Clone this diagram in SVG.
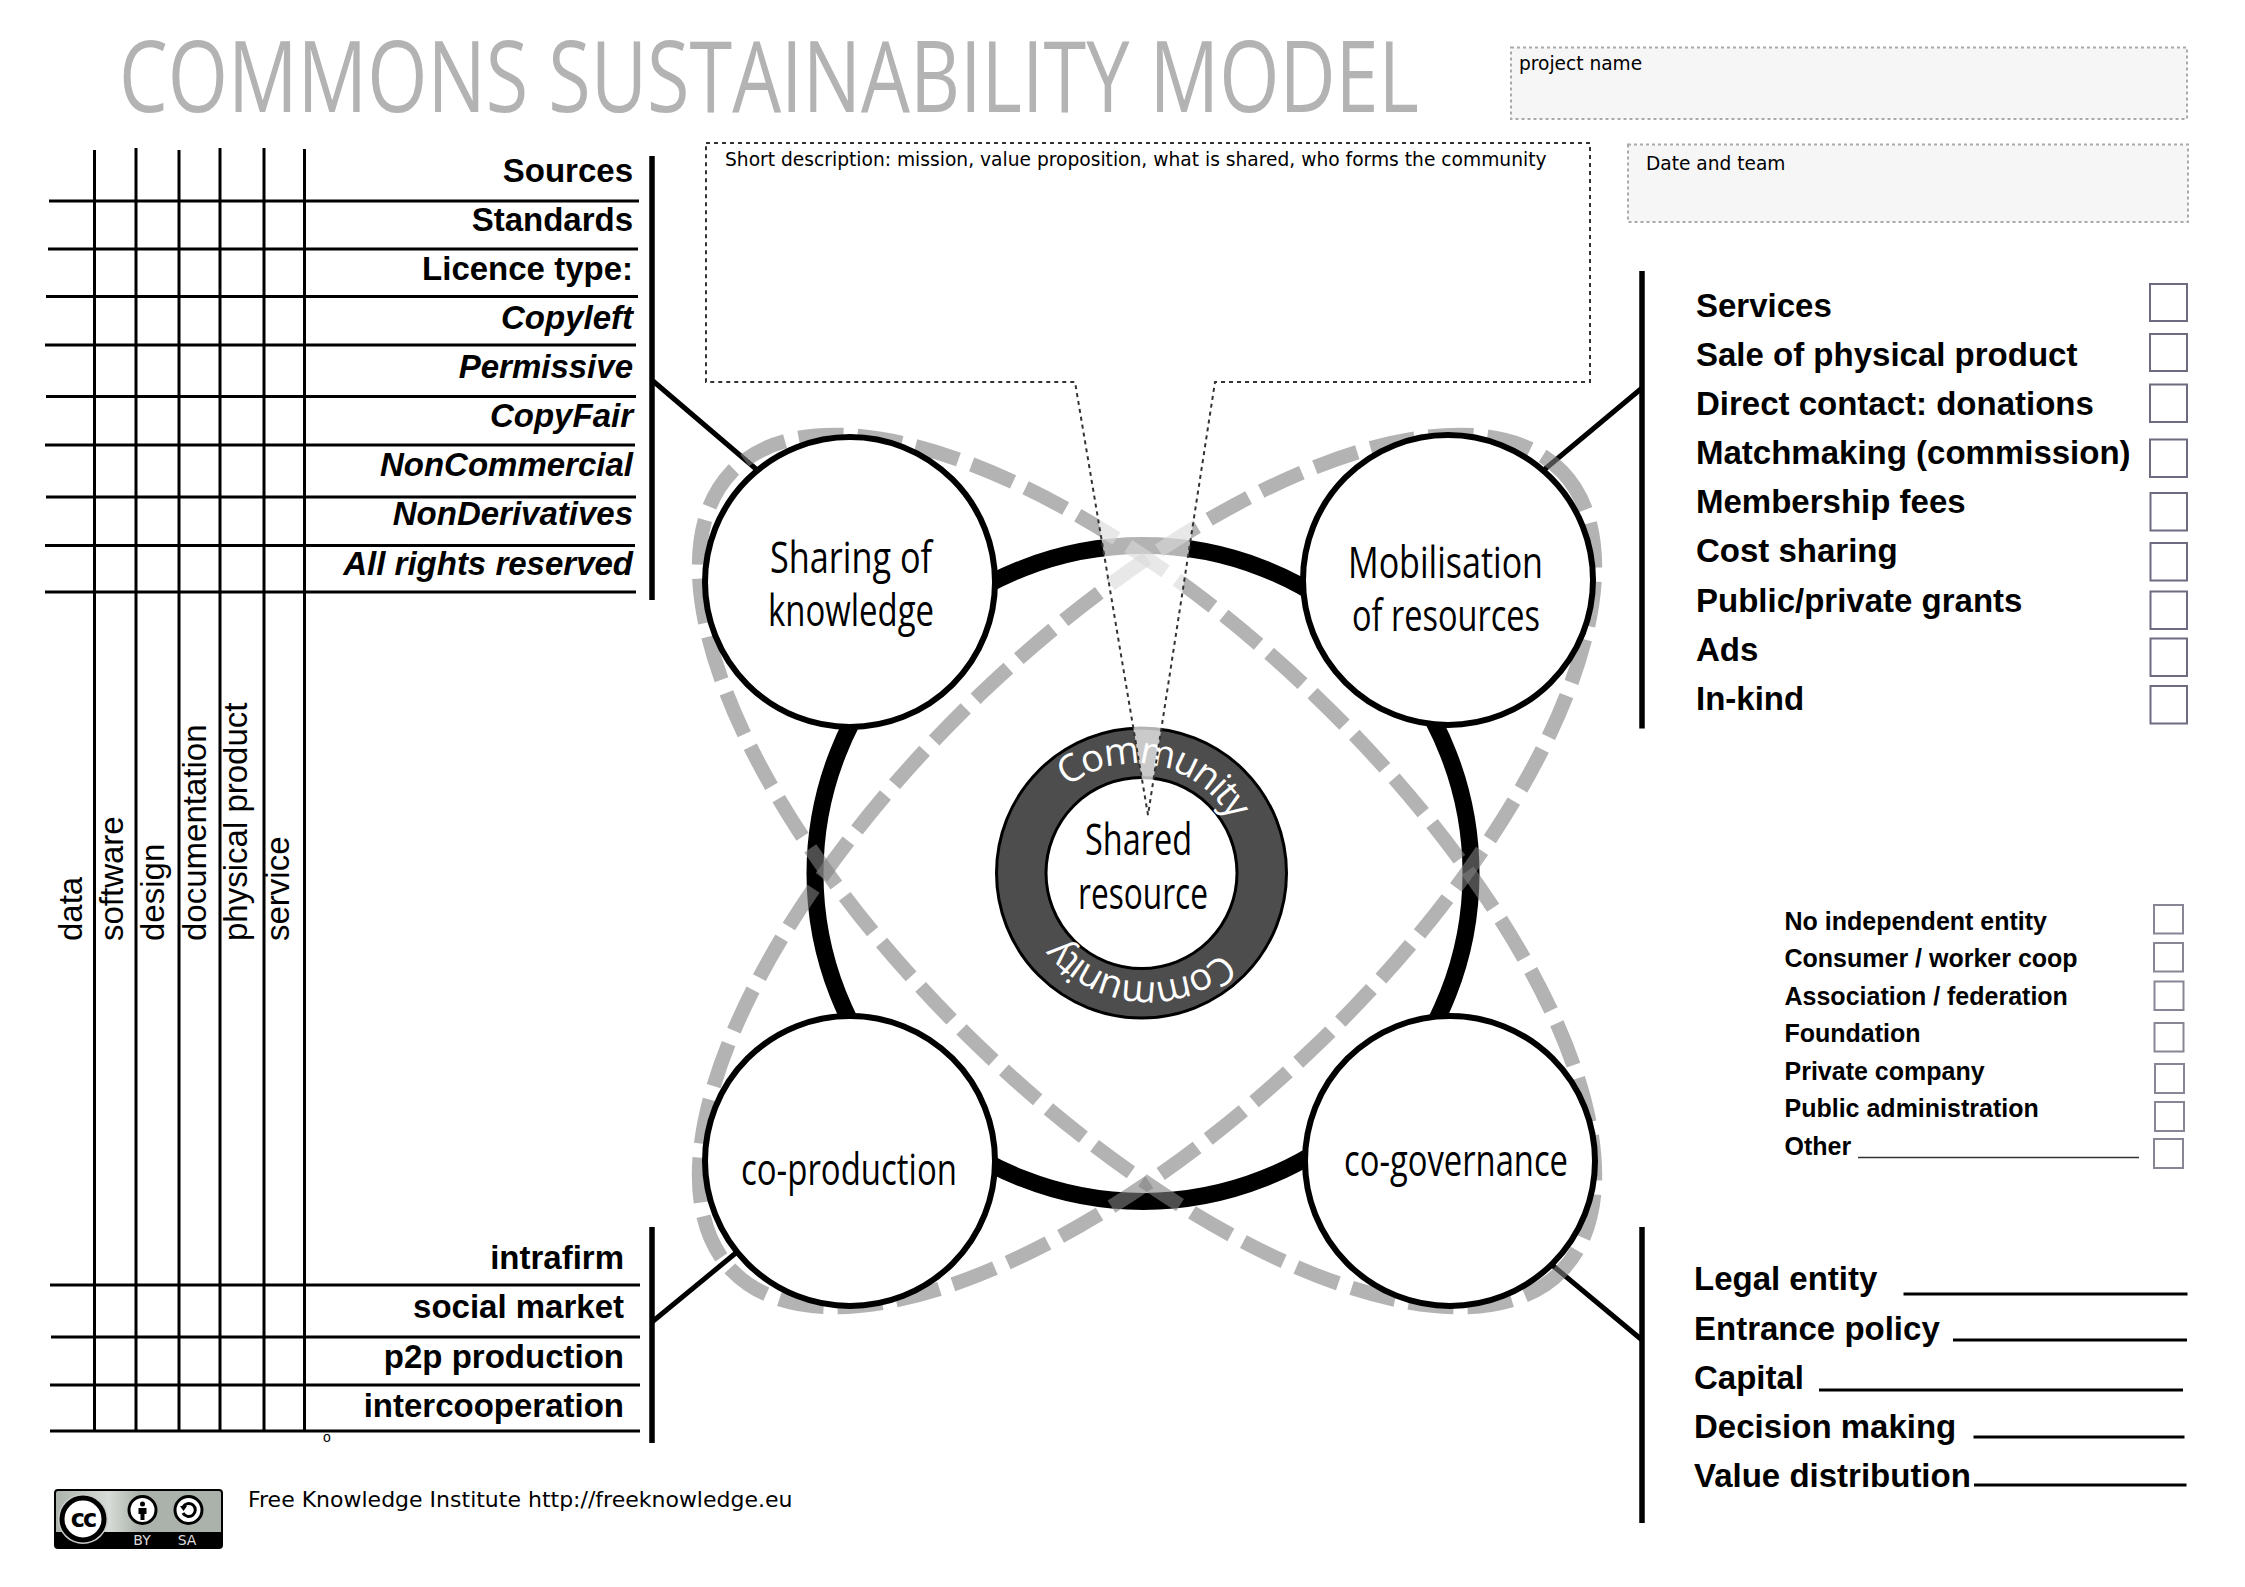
<svg xmlns="http://www.w3.org/2000/svg" width="2245" height="1587" viewBox="0 0 2245 1587">
<style>
text{font-family:"Liberation Sans",Arial,sans-serif;fill:#000}
.b{font-weight:700;font-size:33px}
.e{text-anchor:end}
.i{font-style:italic}
.v{font-size:33px}
.m{font-weight:700;font-size:25px}
.d{font-family:"DejaVu Sans",sans-serif;font-size:18.6px}
.u{font-family:"Open Sans",sans-serif;font-size:44px;font-weight:500}
.ln{stroke:#000;stroke-width:3;fill:none}
.th{stroke:#000;stroke-width:5.500;fill:none}
.con{stroke:#000;stroke-width:5;fill:none}
.box{fill:#fff;stroke:#6f6a80;stroke-width:2}
.sbox{fill:#fff;stroke:#8a8595;stroke-width:2}
.info{fill:#f6f6f6;stroke:#aaa;stroke-width:2;stroke-dasharray:3 3}
.pet{fill:none;stroke:#808080;stroke-opacity:.6;stroke-width:14.500;stroke-dasharray:45 14}
.n{fill:#fff;stroke:#000;stroke-width:6}
</style>
<defs>
<path id="arcT" d="M1063,791 A109,109 0 1 1 1063,955"/>
<linearGradient id="ccg" x1="0" x2="1" y1="0" y2="0">
<stop offset="0" stop-color="#aab2ab"/><stop offset=".32" stop-color="#d8dcd8"/><stop offset=".5" stop-color="#aab2ab"/><stop offset="1" stop-color="#aab2ab"/>
</linearGradient>
</defs>
<rect width="2245" height="1587" fill="#fff"/>

<text x="119" y="112" textLength="1300" lengthAdjust="spacingAndGlyphs" style="font-family:'Open Sans',sans-serif;font-size:98px;font-weight:500;fill:#b3b3b3">COMMONS SUSTAINABILITY MODEL</text>

<g id="project-name"><rect class="info" x="1511" y="47.500" width="676" height="71.500"/><text class="d" x="1519" y="70">project name</text></g>
<g id="date-team"><rect class="info" x="1628" y="144.500" width="560" height="77.500"/><text class="d" x="1646" y="169.500">Date and team</text></g>

<g id="connectors">
<path class="con" d="M653,381 L756,469"/>
<path class="con" d="M1642,388 L1545,469"/>
<path class="con" d="M652,1322 L737,1252"/>
<path class="con" d="M1642,1340 L1552,1265"/>
<circle cx="1143" cy="873.500" r="328" fill="none" stroke="#000" stroke-width="17"/>
<ellipse class="pet" cx="1147" cy="871" rx="576" ry="243" transform="rotate(43.900 1147 871)"/>
<ellipse class="pet" cx="1147" cy="871" rx="576" ry="243" transform="rotate(-43.900 1147 871)"/>
</g>

<g id="sharing-of-knowledge"><circle class="n" cx="850" cy="582" r="145"/>
<text class="u" x="770" y="573" textLength="162" lengthAdjust="spacingAndGlyphs">Sharing of</text>
<text class="u" x="768" y="626" textLength="166" lengthAdjust="spacingAndGlyphs">knowledge</text></g>
<g id="mobilisation-of-resources"><circle class="n" cx="1448" cy="580" r="145"/>
<text class="u" x="1348" y="578" textLength="195" lengthAdjust="spacingAndGlyphs">Mobilisation</text>
<text class="u" x="1352" y="631" textLength="188" lengthAdjust="spacingAndGlyphs">of resources</text></g>
<g id="co-production"><circle class="n" cx="850" cy="1161" r="145"/>
<text class="u" x="741" y="1185" textLength="216" lengthAdjust="spacingAndGlyphs">co-production</text></g>
<g id="co-governance"><circle class="n" cx="1450" cy="1161" r="145"/>
<text class="u" x="1344" y="1176" textLength="224" lengthAdjust="spacingAndGlyphs">co-governance</text></g>

<g id="shared-resource">
<circle cx="1141.500" cy="873" r="145" fill="#4d4d4d" stroke="#000" stroke-width="3"/>
<circle cx="1141.500" cy="873" r="95.500" fill="#fff" stroke="#000" stroke-width="3"/>
<text class="u" x="1085" y="855" textLength="107" lengthAdjust="spacingAndGlyphs">Shared</text>
<text class="u" x="1078" y="909" textLength="130" lengthAdjust="spacingAndGlyphs">resource</text>
<g transform="rotate(3 1141.500 873)"><text style="font-family:'Open Sans',sans-serif;font-size:38px;font-weight:500;fill:#fff"><textPath href="#arcT" textLength="190" lengthAdjust="spacing">Community</textPath></text></g>
<g transform="rotate(178 1141.500 873)"><text style="font-family:'Open Sans',sans-serif;font-size:38px;font-weight:500;fill:#fff"><textPath href="#arcT" textLength="183" lengthAdjust="spacing">Community</textPath></text></g>
</g>

<g id="description">
<path d="M706,143 H1590 V382 H1215 L1148,815 L1075,382 H706 Z" fill="#fff" fill-opacity=".7" stroke="#333" stroke-width="2" stroke-dasharray="4 4"/>
<text class="d" x="725" y="166" style="font-size:18.66px">Short description: mission, value proposition, what is shared, who forms the community</text>
</g>

<g id="licence-table">
<path class="ln" d="M49,201H639M48,249H638M46,296.500H638M45,345H636M46,396.500H636M45,445H635M46,497H636M45,545.500H635M45,592H636"/>
<path class="ln" d="M50,1285H640M51,1337H640M50,1385H640M50,1431H640"/>
<path class="ln" d="M94.500,150V1431M136,148V1431M179,150V1431M220,148V1431M264,148V1431M304.500,149V1431"/>
<path class="th" d="M652,156V600"/>
<path class="th" d="M652,1227V1443"/>
<text class="b e" x="633" y="182">Sources</text>
<text class="b e" x="633" y="231">Standards</text>
<text class="b e" x="633" y="280">Licence type:</text>
<text class="b e i" x="633" y="329">Copyleft</text>
<text class="b e i" x="633" y="378">Permissive</text>
<text class="b e i" x="633" y="427">CopyFair</text>
<text class="b e i" x="633" y="476">NonCommercial</text>
<text class="b e i" x="633" y="525">NonDerivatives</text>
<text class="b e i" x="633" y="574.500">All rights reserved</text>
<text class="b e" x="624" y="1269">intrafirm</text>
<text class="b e" x="624" y="1318">social market</text>
<text class="b e" x="624" y="1368">p2p production</text>
<text class="b e" x="624" y="1417">intercooperation</text>
<text class="v" transform="translate(82,941) rotate(-90)">data</text>
<text class="v" transform="translate(123,941) rotate(-90)">software</text>
<text class="v" transform="translate(164,941) rotate(-90)">design</text>
<text class="v" transform="translate(206,941) rotate(-90)">documentation</text>
<text class="v" transform="translate(247,941) rotate(-90)">physical product</text>
<text class="v" transform="translate(289,941) rotate(-90)">service</text>
<text x="323" y="1442" style="font-size:14px">o</text>
</g>

<g id="revenue">
<path class="th" d="M1642,271V728.500"/>
<text class="b" x="1696" y="316.500">Services</text>
<text class="b" x="1696" y="365.500">Sale of physical product</text>
<text class="b" x="1696" y="415">Direct contact: donations</text>
<text class="b" x="1696" y="464">Matchmaking (commission)</text>
<text class="b" x="1696" y="513">Membership fees</text>
<text class="b" x="1696" y="562">Cost sharing</text>
<text class="b" x="1696" y="612">Public/private grants</text>
<text class="b" x="1696" y="661">Ads</text>
<text class="b" x="1696" y="710">In-kind</text>
<rect class="box" x="2150" y="284" width="37" height="37"/>
<rect class="box" x="2150" y="334" width="37" height="37"/>
<rect class="box" x="2150" y="384.500" width="37" height="37.500"/>
<rect class="box" x="2150" y="439.500" width="37" height="37.500"/>
<rect class="box" x="2150.500" y="493" width="36.500" height="37.500"/>
<rect class="box" x="2150.500" y="543" width="36.500" height="37.500"/>
<rect class="box" x="2150.500" y="591.500" width="36.500" height="37.500"/>
<rect class="box" x="2150.500" y="638.500" width="36.500" height="37.500"/>
<rect class="box" x="2150.500" y="686" width="36.500" height="37.500"/>
</g>

<g id="entity-types">
<text class="m" x="1784.500" y="930">No independent entity</text>
<text class="m" x="1784.500" y="967">Consumer / worker coop</text>
<text class="m" x="1784.500" y="1004.500">Association / federation</text>
<text class="m" x="1784.500" y="1042">Foundation</text>
<text class="m" x="1784.500" y="1079.500">Private company</text>
<text class="m" x="1784.500" y="1117">Public administration</text>
<text class="m" x="1784.500" y="1154.500">Other</text>
<path d="M1858,1157.500H2139" stroke="#333" stroke-width="1.500" fill="none"/>
<rect class="sbox" x="2154" y="905" width="29" height="28.500"/>
<rect class="sbox" x="2154" y="943" width="29" height="28.500"/>
<rect class="sbox" x="2154.500" y="981.500" width="29" height="28.500"/>
<rect class="sbox" x="2154.500" y="1023" width="29" height="28.500"/>
<rect class="sbox" x="2155" y="1064" width="29" height="29"/>
<rect class="sbox" x="2155" y="1102" width="29" height="29"/>
<rect class="sbox" x="2154" y="1139" width="29" height="29"/>
</g>

<g id="governance">
<path class="th" d="M1642,1227V1523"/>
<text class="b" x="1694" y="1290">Legal entity</text>
<text class="b" x="1694" y="1339.500">Entrance policy</text>
<text class="b" x="1694" y="1388.500">Capital</text>
<text class="b" x="1694" y="1437.500">Decision making</text>
<text class="b" x="1694" y="1486.500">Value distribution</text>
<path class="ln" d="M1903.500,1294H2187.500M1953,1340H2187M1819,1390H2183M1973.500,1437H2184.500M1974,1485H2186.500"/>
</g>

<g id="cc-badge">
<rect x="55" y="1490" width="167" height="58" rx="3" fill="url(#ccg)" stroke="#000" stroke-width="2"/>
<path d="M55,1532H222V1545a3,3 0 0 1 -3,3H58a3,3 0 0 1 -3,-3Z" fill="#000"/>
<circle cx="83" cy="1519" r="25" fill="#c8ccc8"/>
<circle cx="83" cy="1519" r="21" fill="#fff" stroke="#000" stroke-width="5"/>
<text x="83" y="1527" text-anchor="middle" style="font-family:'DejaVu Sans',sans-serif;font-weight:700;font-size:24px;letter-spacing:-2px">cc</text>
<circle cx="142.500" cy="1510" r="13.500" fill="#fff" stroke="#000" stroke-width="3"/>
<circle cx="142.500" cy="1504" r="2.500" fill="#000"/>
<path d="M138.500,1508H146.500V1514H144.500V1520H140.500V1514H138.500Z" fill="#000"/>
<circle cx="188.500" cy="1510" r="13.500" fill="#fff" stroke="#000" stroke-width="3"/>
<path d="M183,1507A6.500,6.500 0 1 1 183,1513" fill="none" stroke="#000" stroke-width="3"/>
<path d="M180,1506L187,1506L183.500,1511Z" fill="#000"/>
<text x="142" y="1544.500" text-anchor="middle" style="font-family:'DejaVu Sans',sans-serif;font-size:14px;fill:#ddd">BY</text>
<text x="187" y="1544.500" text-anchor="middle" style="font-family:'DejaVu Sans',sans-serif;font-size:14px;fill:#ddd">SA</text>
</g>
<text class="d" x="248" y="1507" style="font-size:22px">Free Knowledge Institute http://freeknowledge.eu</text>
</svg>
